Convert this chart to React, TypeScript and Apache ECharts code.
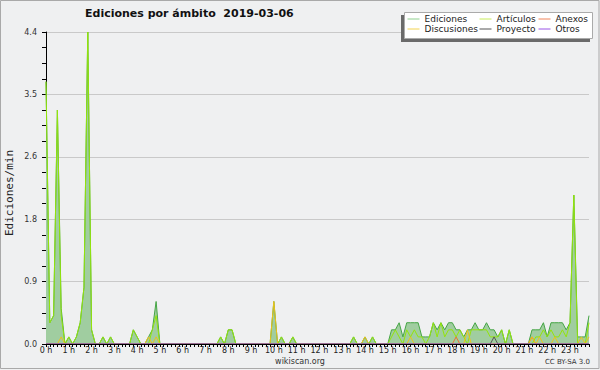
import React, { useEffect, useRef } from 'react';
import * as echarts from 'echarts';

// 10-minute slots over the day (144 categories)
const categories: string[] = [];
for (let h = 0; h < 24; h++) {
  for (let m = 0; m < 60; m += 10) categories.push(`${h}:${m === 0 ? '00' : m}`);
}

const yTicks = [0, 0.88, 1.76, 2.64, 3.52, 4.4];
const yAxisTitle = 'Ediciones/min';

// edits per minute, one row per hour (6 slots of 10 minutes)
const ediciones = [
  3.7, 0.3, 0.4, 3.3, 0.5, 0,
  0.1, 0, 0.1, 0.3, 0.8, 4.4,
  0.2, 0, 0, 0.1, 0, 0.1,
  0, 0, 0, 0, 0, 0.2,
  0.1, 0, 0, 0.1, 0.2, 0.6,
  0, 0, 0, 0, 0, 0,
  0, 0, 0, 0, 0, 0,
  0, 0, 0, 0, 0.1, 0,
  0.2, 0.2, 0, 0, 0, 0,
  0, 0, 0, 0, 0, 0,
  0.6, 0, 0.1, 0, 0, 0.1,
  0, 0, 0, 0, 0, 0,
  0, 0, 0, 0, 0, 0,
  0, 0, 0, 0.1, 0, 0,
  0.1, 0, 0.1, 0, 0, 0,
  0, 0.2, 0.2, 0.3, 0.1, 0.3,
  0.3, 0.3, 0.3, 0.1, 0.1, 0.1,
  0.3, 0.2, 0.3, 0.2, 0.3, 0.3,
  0.2, 0.2, 0.1, 0.2, 0.2, 0.3,
  0.2, 0.2, 0.3, 0.2, 0.2, 0.1,
  0.2, 0, 0.2, 0, 0, 0,
  0, 0, 0.2, 0.2, 0.2, 0.3,
  0.1, 0.3, 0.3, 0.3, 0.3, 0.2,
  0.3, 2.1, 0.1, 0.1, 0.1, 0.4,
];

const articulos = [
  3.7, 0.3, 0.4, 3.3, 0.4, 0,
  0.1, 0, 0.1, 0.3, 0.8, 4.4,
  0.2, 0, 0, 0.1, 0, 0.1,
  0, 0, 0, 0, 0, 0.2,
  0.1, 0, 0, 0, 0.2, 0.4,
  0, 0, 0, 0, 0, 0,
  0, 0, 0, 0, 0, 0,
  0, 0, 0, 0, 0.1, 0,
  0.2, 0.2, 0, 0, 0, 0,
  0, 0, 0, 0, 0, 0,
  0, 0, 0.1, 0, 0, 0.1,
  0, 0, 0, 0, 0, 0,
  0, 0, 0, 0, 0, 0,
  0, 0, 0, 0.1, 0, 0,
  0, 0, 0.1, 0, 0, 0,
  0, 0.1, 0.2, 0.1, 0, 0.2,
  0.1, 0.2, 0.1, 0.1, 0, 0.1,
  0.3, 0.1, 0.3, 0.1, 0.2, 0.2,
  0.1, 0.2, 0.1, 0, 0.2, 0.2,
  0.2, 0.2, 0.2, 0.1, 0.1, 0.1,
  0.2, 0, 0.2, 0, 0, 0,
  0, 0, 0, 0.1, 0.1, 0.2,
  0.1, 0.2, 0.1, 0.1, 0.2, 0.1,
  0.3, 2.1, 0, 0, 0, 0.3,
];

const anexos = [
  0, 0, 0, 0, 0, 0,
  0, 0, 0, 0, 0, 0,
  0, 0, 0, 0, 0, 0,
  0, 0, 0, 0, 0, 0,
  0, 0, 0, 0, 0, 0,
  0, 0, 0, 0, 0, 0,
  0, 0, 0, 0, 0, 0,
  0, 0, 0, 0, 0, 0,
  0, 0, 0, 0, 0, 0,
  0, 0, 0, 0, 0, 0,
  0, 0, 0, 0, 0, 0,
  0, 0, 0, 0, 0, 0,
  0, 0, 0, 0, 0, 0,
  0, 0, 0, 0, 0, 0,
  0, 0, 0, 0, 0, 0,
  0, 0, 0, 0, 0, 0,
  0, 0, 0, 0, 0, 0,
  0, 0, 0, 0, 0, 0,
  0.1, 0, 0, 0, 0, 0,
  0, 0, 0, 0, 0, 0,
  0, 0, 0, 0, 0, 0,
  0, 0, 0.1, 0, 0, 0,
  0, 0, 0, 0, 0, 0,
  0, 0, 0, 0, 0, 0,
];

const discusiones = [
  0, 0, 0, 0, 0.1, 0,
  0, 0, 0, 0, 0, 0,
  0, 0, 0, 0, 0, 0,
  0, 0, 0, 0, 0, 0,
  0, 0, 0, 0.1, 0, 0.1,
  0, 0, 0, 0, 0, 0,
  0, 0, 0, 0, 0, 0,
  0, 0, 0, 0, 0, 0,
  0, 0, 0, 0, 0, 0,
  0, 0, 0, 0, 0, 0,
  0.6, 0, 0, 0, 0, 0,
  0, 0, 0, 0, 0, 0,
  0, 0, 0, 0, 0, 0,
  0, 0, 0, 0, 0, 0,
  0.1, 0, 0, 0, 0, 0,
  0, 0, 0, 0, 0, 0,
  0.1, 0, 0, 0, 0, 0,
  0, 0, 0, 0, 0, 0,
  0, 0, 0, 0.2, 0, 0,
  0, 0, 0, 0, 0, 0,
  0, 0, 0, 0, 0, 0,
  0, 0, 0.1, 0, 0.1, 0,
  0, 0, 0.1, 0, 0, 0,
  0, 0, 0, 0.1, 0, 0.1,
];

const proyecto = [
  0, 0, 0, 0, 0, 0,
  0, 0, 0, 0, 0, 0,
  0, 0, 0, 0, 0, 0,
  0, 0, 0, 0, 0, 0,
  0, 0, 0, 0, 0, 0,
  0, 0, 0, 0, 0, 0,
  0, 0, 0, 0, 0, 0,
  0, 0, 0, 0, 0, 0,
  0, 0, 0, 0, 0, 0,
  0, 0, 0, 0, 0, 0,
  0, 0, 0, 0, 0, 0,
  0, 0, 0, 0, 0, 0,
  0, 0, 0, 0, 0, 0,
  0, 0, 0, 0, 0, 0,
  0, 0, 0, 0, 0, 0,
  0, 0, 0, 0, 0, 0,
  0, 0, 0, 0, 0, 0,
  0, 0, 0, 0, 0, 0,
  0, 0, 0, 0, 0, 0,
  0, 0, 0, 0, 0.1, 0,
  0, 0, 0, 0, 0, 0,
  0, 0, 0, 0, 0, 0,
  0, 0, 0, 0, 0, 0,
  0, 0, 0, 0, 0, 0,
];

const otros = [
  0, 0, 0, 0, 0, 0, 0, 0, 0, 0, 0, 0,
  0, 0, 0, 0, 0, 0, 0, 0, 0, 0, 0, 0,
  0, 0, 0, 0, 0, 0, 0, 0, 0, 0, 0, 0,
  0, 0, 0, 0, 0, 0, 0, 0, 0, 0, 0, 0,
  0, 0, 0, 0, 0, 0, 0, 0, 0, 0, 0, 0,
  0, 0, 0, 0, 0, 0, 0, 0, 0, 0, 0, 0,
  0, 0, 0, 0, 0, 0, 0, 0, 0, 0, 0, 0,
  0, 0, 0, 0, 0, 0, 0, 0, 0, 0, 0, 0,
  0, 0, 0, 0, 0, 0, 0, 0, 0, 0, 0, 0,
  0, 0, 0, 0, 0, 0, 0, 0, 0, 0, 0, 0,
  0, 0, 0, 0, 0, 0, 0, 0, 0, 0, 0, 0,
  0, 0, 0, 0, 0, 0, 0, 0, 0, 0, 0, 0,
];

const FONT = 'DejaVu Sans';

const legendItem = (name: string, color: string) => ({
  name,
  lineStyle: { color, width: 1 },
  itemStyle: { color: 'transparent', opacity: 0, borderWidth: 0 },
});

export default function App() {
  const ref = useRef<HTMLDivElement>(null);
  useEffect(() => {
    if (!ref.current) return;
    const chart = echarts.init(ref.current, null, { renderer: 'svg' });
    const line = (name: string, data: number[], color: string, extra: any = {}) => ({
      name,
      type: 'line',
      data,
      symbol: 'none',
      showSymbol: false,
      lineStyle: { width: 1, color },
      itemStyle: { color },
      emphasis: { disabled: true },
      z: 2,
      ...extra,
    });
    const legendBase = {
      orient: 'vertical',
      top: 14,
      padding: 0,
      itemGap: 0,
      itemWidth: 12,
      itemHeight: 10,
      selectedMode: false,
      z: 10,
      itemStyle: { opacity: 0 },
      textStyle: { fontFamily: FONT, fontSize: 9, color: '#222', lineHeight: 10, padding: [0, 0, 0, 0] },
    };
    chart.setOption({
      animation: false,
      backgroundColor: '#eff0f1',
      title: {
        text: 'Ediciones por ámbito  2019-03-06',
        left: 85,
        top: 8,
        padding: 0,
        textStyle: { fontFamily: FONT, fontSize: 11, fontWeight: 'bold', color: '#111' },
      },
      legend: [
        { ...legendBase, left: 407, data: [legendItem('Ediciones', '#8fd08f'), legendItem('Discusiones', '#f2d350')] },
        { ...legendBase, left: 479, data: [legendItem('Artículos', '#c8ec5a'), legendItem('Proyecto', '#555555')] },
        { ...legendBase, left: 538, data: [legendItem('Anexos', '#f0845a'), legendItem('Otros', '#9a55e6')] },
      ],
      grid: { left: 46, right: 11, top: 32, bottom: 26, outerBoundsMode: 'none', containLabel: false },
      xAxis: {
        type: 'category',
        data: categories,
        boundaryGap: false,
        z: 10,
        axisLine: { lineStyle: { color: '#000', width: 1 } },
        axisTick: { show: true, interval: 0, length: 3, lineStyle: { color: '#000' } },
        axisLabel: {
          interval: 5,
          margin: 2,
          fontFamily: FONT,
          fontSize: 8,
          color: '#222',
          formatter: (v: string) => `${parseInt(v, 10)} h`,
        },
        splitLine: { show: false },
      },
      yAxis: {
        type: 'value',
        min: 0,
        max: 4.4,
        interval: 0.88,
        axisLine: { show: true, lineStyle: { color: '#000', width: 1 } },
        axisTick: { show: true, length: 4, lineStyle: { color: '#000' } },
        minorTick: { show: true, splitNumber: 4, length: 4, lineStyle: { color: '#000' } },
        axisLabel: {
          margin: 9,
          fontFamily: FONT,
          fontSize: 8,
          color: '#333',
          formatter: (v: number) => (yTicks.some((t) => Math.abs(t - v) < 1e-6) ? v.toFixed(1) : ''),
        },
        splitLine: { show: true, lineStyle: { color: '#c9c9c9', width: 1 } },
      },
      series: [
        line('Ediciones', ediciones, '#45a545', { areaStyle: { color: '#a0cda0', opacity: 1 } }),
        line('Artículos', articulos, '#94e40c'),
        line('Anexos', anexos, '#ee7030'),
        line('Discusiones', discusiones, '#eec21a'),
        line('Proyecto', proyecto, '#555555'),
        line('Otros', otros, '#9a55e6'),
      ],
      graphic: [
        { type: 'rect', z: 3, shape: { x: 0.5, y: 0.5, width: 598.5, height: 368 }, style: { fill: 'none', stroke: '#a9a9a9', lineWidth: 1 } },
        { type: 'rect', z: 3, shape: { x: 401, y: 15, width: 189, height: 27 }, style: { fill: '#6a6a6a' } },
        { type: 'rect', z: 3, shape: { x: 404.5, y: 12.5, width: 188, height: 26 }, style: { fill: '#ffffff', stroke: '#aaaaaa', lineWidth: 1 } },
        { type: 'text', z: 3, x: 9.5, y: 193, rotation: Math.PI / 2, style: { text: yAxisTitle, font: '11px "DejaVu Sans Mono"', fill: '#222', align: 'center', verticalAlign: 'middle' } },
        { type: 'text', z: 3, x: 300, y: 361, style: { text: 'wikiscan.org', font: `8px "${FONT}"`, fill: '#333', align: 'center', verticalAlign: 'middle' } },
        { type: 'text', z: 3, x: 590, y: 362, style: { text: 'CC BY-SA 3.0', font: `7px "${FONT}"`, fill: '#333', align: 'right', verticalAlign: 'middle' } },
      ],
    });
    return () => chart.dispose();
  }, []);
  return <div ref={ref} style={{ position: 'absolute', left: 0, top: 0, width: 600, height: 370 }} />;
}
